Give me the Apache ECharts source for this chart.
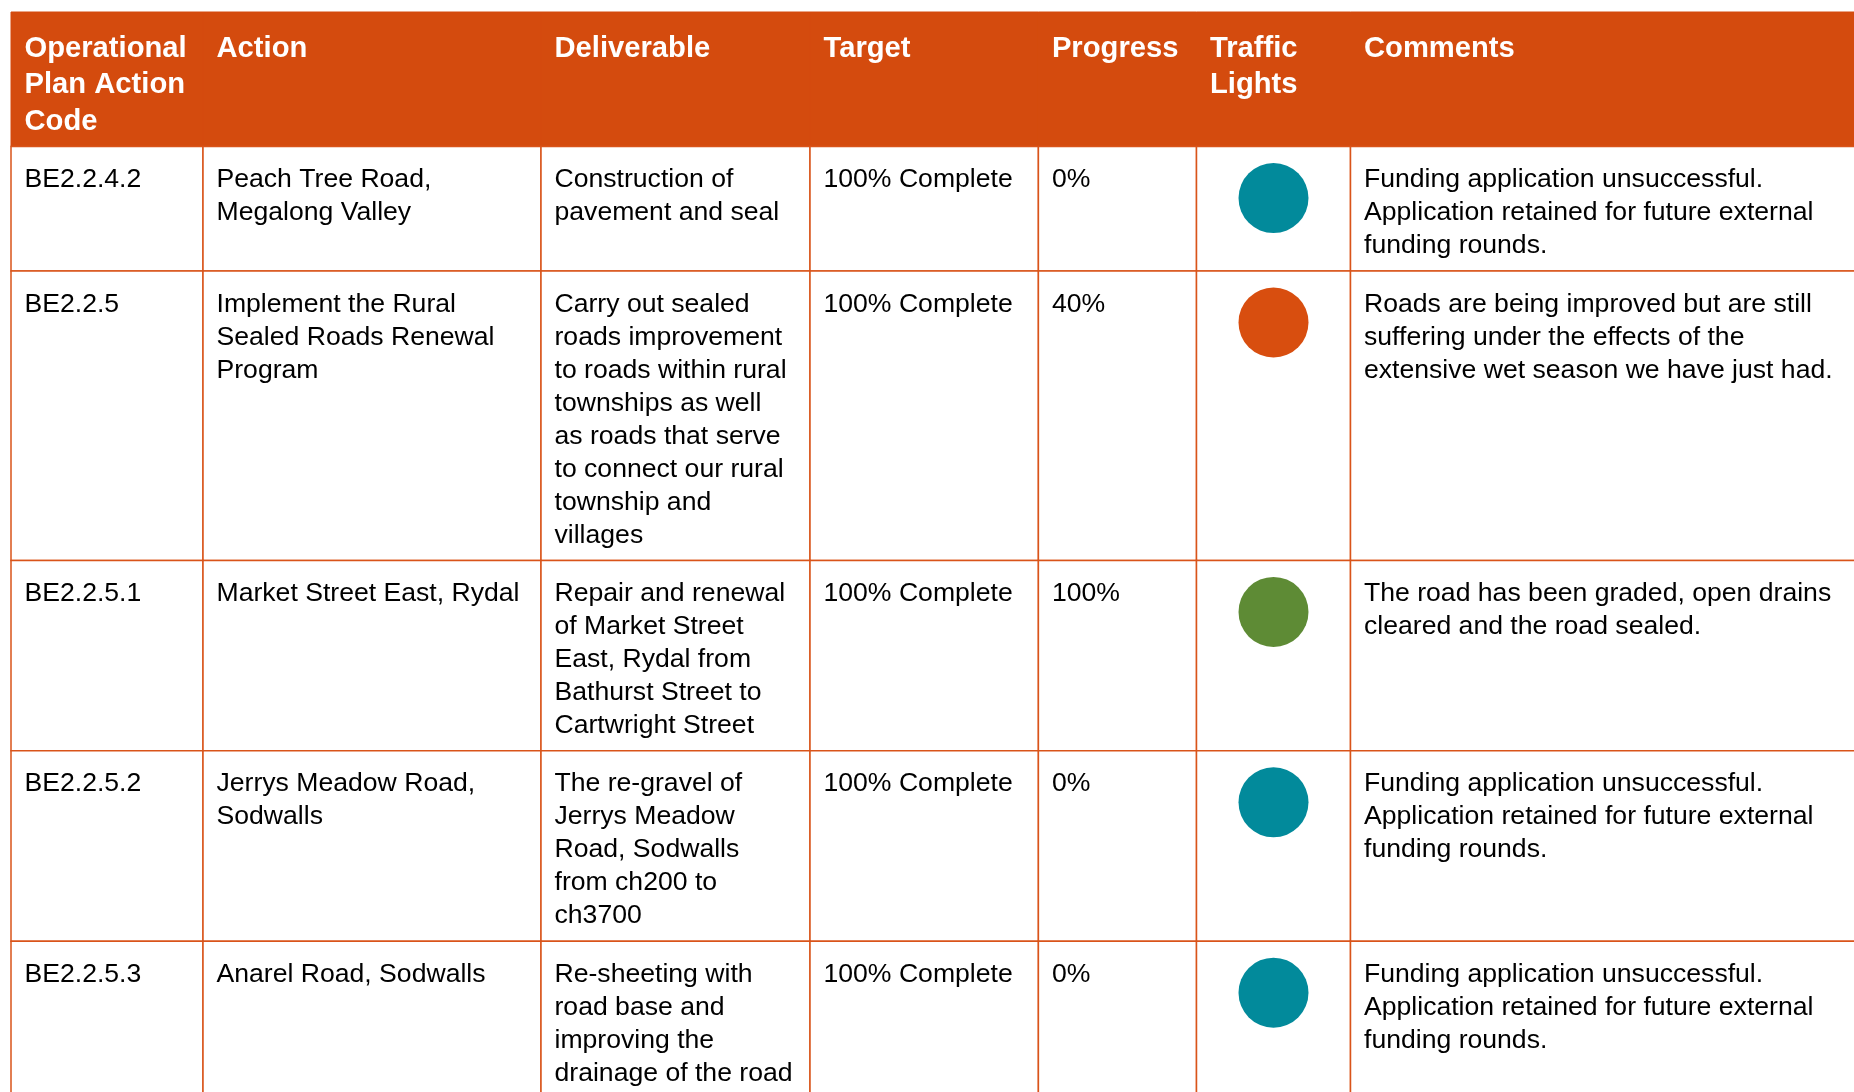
<!DOCTYPE html>
<html>
<head>
<meta charset="utf-8">
<script src="https://cdn.jsdelivr.net/npm/echarts@6/dist/echarts.min.js"></script>
<style>
html,body{margin:0;padding:0;background:#fff;}
#chart{width:1854px;height:1092px;}
</style>
</head>
<body>
<div id="chart"></div>
<script>
// ---------- DATA ----------
const headers = ['Operational\nPlan Action\nCode', 'Action', 'Deliverable', 'Target', 'Progress', 'Traffic\nLights', 'Comments'];
const codes = ['BE2.2.4.2', 'BE2.2.5', 'BE2.2.5.1', 'BE2.2.5.2', 'BE2.2.5.3'];
const actions = [
  'Peach Tree Road,\nMegalong Valley',
  'Implement the Rural\nSealed Roads Renewal\nProgram',
  'Market Street East, Rydal',
  'Jerrys Meadow Road,\nSodwalls',
  'Anarel Road, Sodwalls'
];
const deliverables = [
  'Construction of\npavement and seal',
  'Carry out sealed\nroads improvement\nto roads within rural\ntownships as well\nas roads that serve\nto connect our rural\ntownship and\nvillages',
  'Repair and renewal\nof Market Street\nEast, Rydal from\nBathurst Street to\nCartwright Street',
  'The re-gravel of\nJerrys Meadow\nRoad, Sodwalls\nfrom ch200 to\nch3700',
  'Re-sheeting with\nroad base and\nimproving the\ndrainage of the road'
];
const targets = ['100% Complete', '100% Complete', '100% Complete', '100% Complete', '100% Complete'];
const progress = ['0%', '40%', '100%', '0%', '0%'];
const lights = ['blue', 'orange', 'green', 'blue', 'blue'];
const comments = [
  'Funding application unsuccessful.\nApplication retained for future external\nfunding rounds.',
  'Roads are being improved but are still\nsuffering under the effects of the\nextensive wet season we have just had.',
  'The road has been graded, open drains\ncleared and the road sealed.',
  'Funding application unsuccessful.\nApplication retained for future external\nfunding rounds.',
  'Funding application unsuccessful.\nApplication retained for future external\nfunding rounds.'
];

// ---------- LAYOUT / STYLE ----------
const W = 1854, H = 1092;
const COL_EDGES = [11, 203, 541, 810, 1038.4, 1196.5, 1350.5, 1880];
const TABLE_TOP = 12, HEADER_BOTTOM = 146.6;
const BODY_LH = 33, ROW_PAD = 25.4, BODY_FS = 26.6;
const HEAD_LH = 36.6, HEAD_FS = 29.2;
const TEXT_PAD_X = 13.5, BODY_TEXT_TOP = 16.8, HEAD_TEXT_TOP = 18.4;
const HEADER_COLOR = '#D44B0E', BORDER_COLOR = '#D9541A';
const LIGHT_COLORS = {blue: '#028A9B', orange: '#D84E0F', green: '#5E8B35'};
const FONT = 'Liberation Sans, Arial, Helvetica, sans-serif';
const LIGHT_OFFSET = 51.5, LIGHT_SIZE = 70;

const columnsData = [codes, actions, deliverables, targets, progress, null, comments];

// row edges computed from number of text lines per row
const rowEdges = [TABLE_TOP, HEADER_BOTTOM];
for (let r = 0; r < codes.length; r++) {
  let maxLines = 1;
  columnsData.forEach(col => {
    if (col) maxLines = Math.max(maxLines, String(col[r]).split('\n').length);
  });
  rowEdges.push(rowEdges[rowEdges.length - 1] + maxLines * BODY_LH + ROW_PAD);
}

// cells: [col, row]  (row 0 = header)
const cells = [];
for (let r = 0; r <= codes.length; r++) {
  for (let c = 0; c < headers.length; c++) cells.push([c, r]);
}

function cellText(c, r) {
  if (r === 0) return headers[c];
  const col = columnsData[c];
  return col ? col[r - 1] : '';
}

const lightPoints = lights.map((s, i) => ({
  value: [(COL_EDGES[5] + COL_EDGES[6]) / 2, rowEdges[i + 1] + LIGHT_OFFSET],
  itemStyle: {color: LIGHT_COLORS[s], opacity: 1}
}));

const chart = echarts.init(document.getElementById('chart'), null, {renderer: 'canvas'});
chart.setOption({
  animation: false,
  backgroundColor: '#ffffff',
  grid: {left: 0, top: 0, width: W, height: H, containLabel: false},
  xAxis: {type: 'value', min: 0, max: W, show: false},
  yAxis: {type: 'value', min: 0, max: H, inverse: true, show: false},
  series: [
    {
      type: 'custom',
      coordinateSystem: 'cartesian2d',
      silent: true,
      clip: false,
      data: cells,
      renderItem: function (params, api) {
        const c = api.value(0), r = api.value(1);
        const p0 = api.coord([COL_EDGES[c], rowEdges[r]]);
        const p1 = api.coord([COL_EDGES[c + 1], rowEdges[r + 1]]);
        const isHead = r === 0;
        const children = [];
        children.push({
          type: 'rect',
          shape: {x: p0[0], y: p0[1], width: p1[0] - p0[0], height: p1[1] - p0[1]},
          style: isHead ? {fill: HEADER_COLOR, stroke: HEADER_COLOR, lineWidth: 1}
                        : {fill: '#ffffff', stroke: BORDER_COLOR, lineWidth: 1.5}
        });
        const txt = cellText(c, r);
        if (txt) {
          children.push({
            type: 'text',
            x: p0[0] + TEXT_PAD_X,
            y: p0[1] + (isHead ? HEAD_TEXT_TOP : BODY_TEXT_TOP),
            style: {
              text: txt,
              fontFamily: FONT,
              fontSize: isHead ? HEAD_FS : BODY_FS,
              fontWeight: isHead ? 'bold' : 'normal',
              lineHeight: isHead ? HEAD_LH : BODY_LH,
              fill: isHead ? '#ffffff' : '#000000',
              align: 'left',
              verticalAlign: 'top'
            }
          });
        }
        return {type: 'group', children: children};
      },
      z: 1
    },
    {
      type: 'scatter',
      silent: true,
      symbol: 'circle',
      symbolSize: LIGHT_SIZE,
      itemStyle: {opacity: 1},
      data: lightPoints,
      z: 5
    }
  ]
});
</script>
</body>
</html>
